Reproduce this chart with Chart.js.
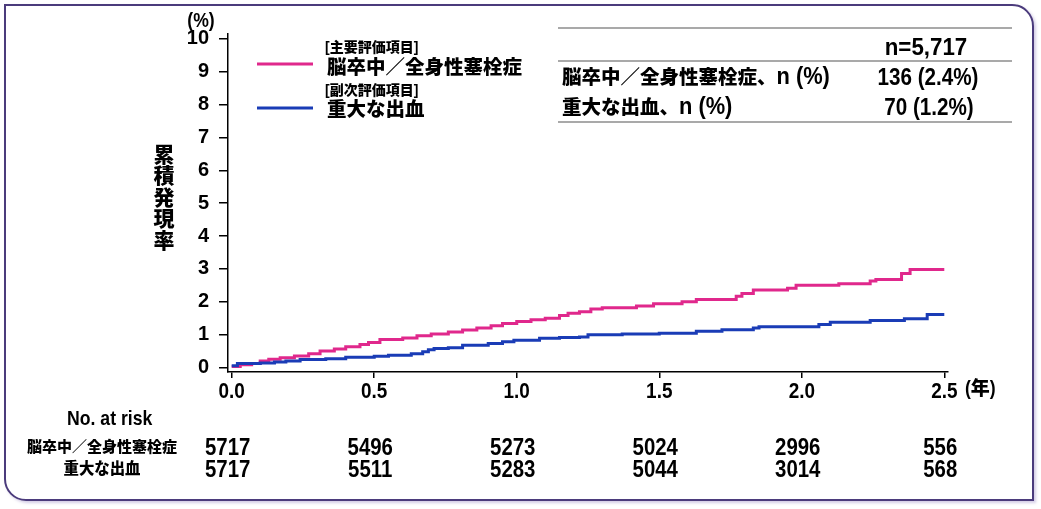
<!DOCTYPE html>
<html lang="ja">
<head>
<meta charset="utf-8">
<script src="https://cdn.jsdelivr.net/npm/chart.js@4.4.1/dist/chart.umd.min.js"></script>
<style>
    body { margin: 0; background: #fff; }
    #marco {
        position: absolute; left: 4px; top: 4px; width: 1026px; height: 493px;
        border: 2px solid #4b3b7c; border-radius: 0 22px 0 22px;
        box-shadow: 2px 2px 3px rgba(130, 110, 180, 0.35);
    }
    #grafico { position: absolute; left: 0; top: 0; }
</style>
</head>
<body>
<div id="marco"></div>
<canvas id="grafico" width="1041" height="509"></canvas>
<script>
// 脳卒中/全身性塞栓症 (stepped cumulative incidence, %)
const strokeTimes = [0, 0.03, 0.07, 0.10, 0.13, 0.17, 0.22, 0.27, 0.31, 0.36, 0.40, 0.45, 0.48, 0.52, 0.60, 0.65, 0.70, 0.76, 0.81, 0.86, 0.91, 0.95, 1.00, 1.05, 1.10, 1.15, 1.18, 1.22, 1.26, 1.30, 1.42, 1.48, 1.58, 1.63, 1.77, 1.79, 1.83, 1.95, 1.98, 2.13, 2.24, 2.26, 2.35, 2.38, 2.50];
const strokeRates = [0.03, 0.08, 0.12, 0.20, 0.25, 0.30, 0.35, 0.42, 0.50, 0.56, 0.63, 0.70, 0.76, 0.85, 0.90, 0.97, 1.02, 1.08, 1.14, 1.20, 1.27, 1.34, 1.40, 1.45, 1.50, 1.58, 1.65, 1.70, 1.78, 1.82, 1.87, 1.94, 2.00, 2.07, 2.17, 2.25, 2.36, 2.41, 2.50, 2.55, 2.63, 2.68, 2.86, 2.98, 2.98];

// 重大な出血
const bleedTimes = [0, 0.02, 0.10, 0.15, 0.19, 0.24, 0.33, 0.40, 0.50, 0.55, 0.63, 0.67, 0.69, 0.71, 0.76, 0.81, 0.90, 0.95, 0.99, 1.08, 1.15, 1.22, 1.25, 1.37, 1.50, 1.63, 1.72, 1.83, 1.85, 2.06, 2.10, 2.24, 2.36, 2.44, 2.50];
const bleedRates = [0.05, 0.12, 0.14, 0.17, 0.20, 0.24, 0.27, 0.31, 0.34, 0.37, 0.42, 0.48, 0.54, 0.58, 0.60, 0.68, 0.73, 0.78, 0.83, 0.89, 0.91, 0.93, 1.00, 1.02, 1.04, 1.10, 1.15, 1.20, 1.24, 1.31, 1.38, 1.43, 1.48, 1.61, 1.61];

const xTicks = [0, 0.5, 1.0, 1.5, 2.0, 2.5];
const yTicks = [0, 1, 2, 3, 4, 5, 6, 7, 8, 9, 10];

const riskStroke = [5717, 5496, 5273, 5024, 2996, 556];
const riskBleed = [5717, 5511, 5283, 5044, 3014, 568];

const seriesNames = ["脳卒中／全身性塞栓症", "重大な出血"];
const endpointNames = ["[主要評価項目]", "[副次評価項目]"];
const tableHeader = "n=5,717";
const tableLabels = ["脳卒中／全身性塞栓症、n (%)", "重大な出血、n (%)"];
const tableValues = ["136 (2.4%)", "70 (1.2%)"];

const colorStroke = "#e0288c";
const colorBleed = "#1a3cb6";

const cjkBold = "900 %spx 'Noto Sans CJK JP', sans-serif";
const latinBold = "bold %spx 'Liberation Sans', Arial, sans-serif";

function fuente(plantilla, tam) {
    return plantilla.replace("%s", tam);
}

function esCjk(ch) {
    return /[\u3000-\u30ff\u4e00-\u9fff\uff00-\uffef]/.test(ch);
}

// draws text mixing the CJK font and a horizontally squeezed latin font
function textoMixto(ctx, texto, x, y, tamCjk, tamLatin, align, escala) {
    const esc = escala || 1;
    const tramos = [];
    for (const ch of texto) {
        const cjk = esCjk(ch);
        const ultimo = tramos[tramos.length - 1];
        if (ultimo && ultimo.cjk === cjk) {
            ultimo.texto += ch;
        } else {
            tramos.push({ texto: ch, cjk: cjk });
        }
    }
    let total = 0;
    tramos.forEach(function (t) {
        ctx.font = t.cjk ? fuente(cjkBold, tamCjk) : fuente(latinBold, tamLatin);
        t.ancho = ctx.measureText(t.texto).width * (t.cjk ? 1 : esc);
        total += t.ancho;
    });
    let cx = x;
    if (align === "center") cx = x - total / 2;
    if (align === "right") cx = x - total;
    ctx.textAlign = "left";
    ctx.textBaseline = "alphabetic";
    tramos.forEach(function (t) {
        ctx.font = t.cjk ? fuente(cjkBold, tamCjk) : fuente(latinBold, tamLatin);
        ctx.save();
        ctx.translate(cx, y);
        if (!t.cjk) ctx.scale(esc, 1);
        ctx.fillText(t.texto, 0, 0);
        ctx.restore();
        cx += t.ancho;
    });
}

function puntos(tiempos, valores) {
    return tiempos.map(function (t, i) {
        return { x: t, y: valores[i] };
    });
}

const extras = {
    id: "extras",
    afterDraw(chart) {
        const ctx = chart.ctx;
        const escalaX = chart.scales.x;
        ctx.save();
        ctx.fillStyle = "#000";

        // x tick labels (narrow)
        xTicks.forEach(function (t) {
            textoMixto(ctx, t.toFixed(1), escalaX.getPixelForValue(t), 398, 20, 22, "center", 0.86);
        });

        // (%) and (年)
        textoMixto(ctx, "(%)", 201, 27, 18, 20, "center", 0.88);
        textoMixto(ctx, "(年)", 965, 395, 19, 20, "left", 0.88);

        // vertical y title
        ctx.font = fuente(cjkBold, 21);
        ctx.textAlign = "center";
        ctx.textBaseline = "middle";
        Array.from("累積発現率").forEach(function (ch, i) {
            ctx.fillText(ch, 164, 154 + i * 21.4);
        });

        // legend
        ctx.lineWidth = 3;
        [colorStroke, colorBleed].forEach(function (c, i) {
            const y = i === 0 ? 64 : 108;
            ctx.strokeStyle = c;
            ctx.beginPath();
            ctx.moveTo(257, y);
            ctx.lineTo(313, y);
            ctx.stroke();
        });
        textoMixto(ctx, endpointNames[0], 325, 52, 14, 14, "left");
        textoMixto(ctx, seriesNames[0], 327, 74, 19.5, 20, "left");
        textoMixto(ctx, endpointNames[1], 325, 95, 14, 14, "left");
        textoMixto(ctx, seriesNames[1], 327, 116, 19.5, 20, "left");

        // table at top right
        ctx.strokeStyle = "#8c8c8c";
        ctx.lineWidth = 1.5;
        [28, 61, 122].forEach(function (y) {
            ctx.beginPath();
            ctx.moveTo(558, y);
            ctx.lineTo(1012, y);
            ctx.stroke();
        });
        textoMixto(ctx, tableHeader, 926, 55, 19, 24, "center", 0.93);
        textoMixto(ctx, tableLabels[0], 562, 84, 19.5, 23, "left", 0.95);
        textoMixto(ctx, tableLabels[1], 562, 114, 19.5, 23, "left", 0.95);
        textoMixto(ctx, tableValues[0], 928, 85, 19, 24, "center", 0.86);
        textoMixto(ctx, tableValues[1], 929, 115, 19, 24, "center", 0.86);

        // number at risk
        textoMixto(ctx, "No. at risk", 67, 425, 20, 21, "left", 0.84);
        textoMixto(ctx, seriesNames[0], 102, 452, 15, 15, "center");
        textoMixto(ctx, seriesNames[1], 102, 474, 15.4, 15, "center");
        xTicks.forEach(function (t, i) {
            const px = escalaX.getPixelForValue(t) - 4;
            textoMixto(ctx, String(riskStroke[i]), px, 455, 20, 24, "center", 0.85);
            textoMixto(ctx, String(riskBleed[i]), px, 477, 20, 24, "center", 0.85);
        });

        ctx.restore();
    }
};

new Chart(document.getElementById("grafico"), {
    type: "line",
    data: {
        datasets: [{
            label: seriesNames[1],
            data: puntos(bleedTimes, bleedRates),
            borderColor: colorBleed,
            borderWidth: 3,
            pointRadius: 0,
            stepped: true,
            fill: false
        }, {
            label: seriesNames[0],
            data: puntos(strokeTimes, strokeRates),
            borderColor: colorStroke,
            borderWidth: 3,
            pointRadius: 0,
            stepped: true,
            fill: false
        }]
    },
    options: {
        responsive: false,
        animation: false,
        layout: {
            padding: { left: 0, top: 34, right: 93, bottom: 97 }
        },
        plugins: {
            legend: { display: false },
            tooltip: { enabled: false }
        },
        scales: {
            x: {
                type: "linear",
                min: -0.013,
                max: 2.513,
                afterBuildTicks: function (scale) {
                    scale.ticks = xTicks.map(function (v) { return { value: v }; });
                },
                afterFit: function (scale) {
                    scale.height = 40;
                },
                grid: { drawOnChartArea: false, tickLength: 6, color: "#000", lineWidth: 1.5 },
                border: { color: "#000", width: 1.5 },
                ticks: {
                    color: "#000",
                    padding: 3,
                    maxRotation: 0,
                    font: { family: "'Liberation Sans', Arial, sans-serif", weight: "bold", size: 22 },
                    callback: function () { return ""; }
                }
            },
            y: {
                min: -0.137,
                max: 10.15,
                afterBuildTicks: function (scale) {
                    scale.ticks = yTicks.map(function (v) { return { value: v }; });
                },
                afterFit: function (scale) {
                    scale.width = 228;
                },
                grid: { drawOnChartArea: false, tickLength: 9, color: "#000", lineWidth: 1.5 },
                border: { color: "#000", width: 1.5 },
                ticks: {
                    color: "#000",
                    padding: 10,
                    font: { family: "'Liberation Sans', Arial, sans-serif", weight: "bold", size: 20 }
                }
            }
        }
    },
    plugins: [extras]
});
</script>
</body>
</html>
